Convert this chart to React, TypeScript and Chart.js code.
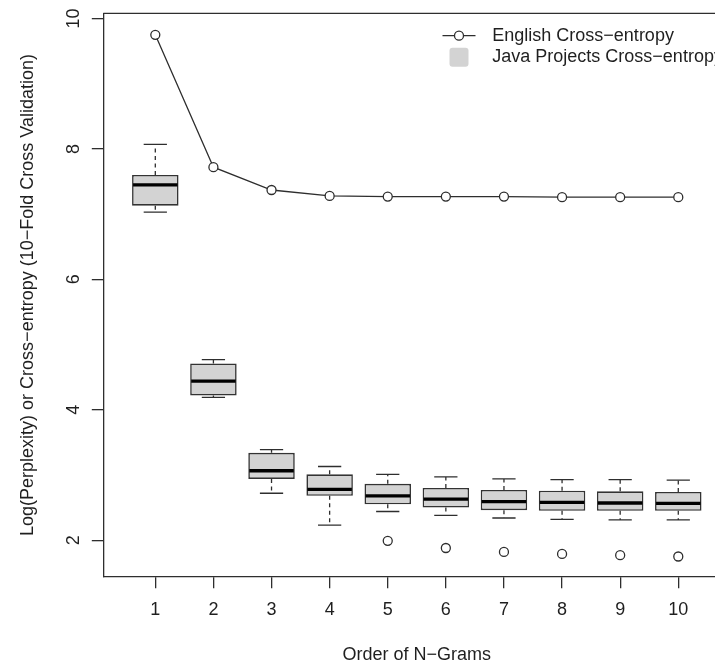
import React, { useEffect, useRef } from "react";
import { Chart, registerables } from "chart.js";

Chart.register(...registerables);

// ---- data ----
const orders = [1, 2, 3, 4, 5, 6, 7, 8, 9, 10];
const englishCrossEntropy = [9.75, 7.72, 7.37, 7.28, 7.27, 7.27, 7.27, 7.26, 7.26, 7.26];
const javaLowerWhisker = [7.03, 4.19, 2.72, 2.23, 2.44, 2.38, 2.34, 2.32, 2.31, 2.31];
const javaQ1 = [7.13, 4.22, 2.94, 2.68, 2.55, 2.5, 2.46, 2.45, 2.45, 2.45];
const javaMedian = [7.45, 4.44, 3.065, 2.78, 2.68, 2.63, 2.59, 2.58, 2.57, 2.565];
const javaQ3 = [7.6, 4.71, 3.34, 3.01, 2.865, 2.8, 2.77, 2.76, 2.75, 2.74];
const javaUpperWhisker = [8.07, 4.77, 3.39, 3.13, 3.01, 2.97, 2.94, 2.93, 2.93, 2.92];
const javaOutlierOrders = [5, 6, 7, 8, 9, 10];
const javaOutlierValues = [1.99, 1.88, 1.82, 1.79, 1.77, 1.75];
const seriesLabels = ["English Cross\u2212entropy", "Java Projects Cross\u2212entropy"];
const xTitle = "Order of N\u2212Grams";
const yTitle = "Log(Perplexity) or Cross\u2212entropy (10\u2212Fold Cross Validation)";

// ---- layout / style ----
const X_MIN = 0.105;
const X_MAX = 10.89;
const Y_MIN = 1.44;
const Y_MAX = 10.08;
const FONT = "'Liberation Sans', Arial, Helvetica, sans-serif";
const TEXT = "#1f1f1f";
const LINE = "#2e2e2e";
const BOX_FILL = "#d3d3d3";
const BOX_HALF = 0.4;
const STAPLE_HALF = 0.2;

const boxPlugin = {
  id: "boxExtras",
  afterDatasetsDraw(chart: any) {
    const ctx = chart.ctx;
    const xs = chart.scales.x;
    const ys = chart.scales.y;
    ctx.save();
    orders.forEach((o, i) => {
      const cx = xs.getPixelForValue(o);
      const hw = xs.getPixelForValue(o + BOX_HALF) - cx;
      const sw = xs.getPixelForValue(o + STAPLE_HALF) - cx;
      const yLo = ys.getPixelForValue(javaLowerWhisker[i]);
      const yQ1 = ys.getPixelForValue(javaQ1[i]);
      const yMed = ys.getPixelForValue(javaMedian[i]);
      const yQ3 = ys.getPixelForValue(javaQ3[i]);
      const yHi = ys.getPixelForValue(javaUpperWhisker[i]);
      // whiskers (dashed)
      ctx.strokeStyle = LINE;
      ctx.lineWidth = 1.3;
      ctx.setLineDash([4, 3.5]);
      ctx.beginPath();
      ctx.moveTo(cx, yQ3);
      ctx.lineTo(cx, yHi);
      ctx.moveTo(cx, yQ1);
      ctx.lineTo(cx, yLo);
      ctx.stroke();
      // staples
      ctx.setLineDash([]);
      ctx.beginPath();
      ctx.moveTo(cx - sw, yHi);
      ctx.lineTo(cx + sw, yHi);
      ctx.moveTo(cx - sw, yLo);
      ctx.lineTo(cx + sw, yLo);
      ctx.stroke();
      // median
      ctx.strokeStyle = "#000";
      ctx.lineWidth = 3.3;
      ctx.beginPath();
      ctx.moveTo(cx - hw + 1, yMed);
      ctx.lineTo(cx + hw - 1, yMed);
      ctx.stroke();
    });
    ctx.restore();
  },
  afterDraw(chart: any) {
    const ctx = chart.ctx;
    const a = chart.chartArea;
    ctx.save();
    // top/right frame lines
    ctx.strokeStyle = LINE;
    ctx.lineWidth = 1.3;
    ctx.beginPath();
    ctx.moveTo(a.left, a.top);
    ctx.lineTo(a.right, a.top);
    ctx.lineTo(a.right, a.bottom);
    ctx.stroke();
    // legend
    const symX = a.left + 355.7;
    const textX = a.left + 389;
    const row1 = a.top + 22.4;
    const row2 = a.top + 44;
    ctx.strokeStyle = LINE;
    ctx.lineWidth = 1.3;
    ctx.beginPath();
    ctx.moveTo(symX - 16.5, row1);
    ctx.lineTo(symX + 16.5, row1);
    ctx.stroke();
    ctx.beginPath();
    ctx.arc(symX, row1, 4.5, 0, Math.PI * 2);
    ctx.fillStyle = "#fff";
    ctx.fill();
    ctx.stroke();
    ctx.fillStyle = BOX_FILL;
    const s = 19;
    const r = 3;
    ctx.beginPath();
    (ctx as any).roundRect(symX - s / 2, row2 - s / 2, s, s, r);
    ctx.fill();
    ctx.fillStyle = TEXT;
    ctx.font = `18px ${FONT}`;
    ctx.textBaseline = "middle";
    ctx.textAlign = "left";
    ctx.fillText(seriesLabels[0], textX, row1);
    ctx.fillText(seriesLabels[1], textX, row2);
    ctx.restore();
  },
};

export default function App() {
  const ref = useRef<HTMLCanvasElement | null>(null);
  useEffect(() => {
    if (!ref.current) return;
    const chart = new Chart(ref.current, {
      type: "bar",
      data: {
        datasets: [
          {
            type: "bar",
            label: seriesLabels[1],
            data: orders.map((o, i) => ({ x: o, y: [javaQ1[i], javaQ3[i]] })) as any,
            backgroundColor: BOX_FILL,
            borderColor: "#333333",
            borderWidth: 1.6,
            borderSkipped: false,
            barPercentage: 0.8,
            categoryPercentage: 1,
            order: 2,
          } as any,
          {
            type: "line",
            label: seriesLabels[0],
            data: orders.map((o, i) => ({ x: o, y: englishCrossEntropy[i] })),
            borderColor: LINE,
            borderWidth: 1.3,
            pointRadius: 4.5,
            pointBorderWidth: 1.3,
            pointBorderColor: LINE,
            pointBackgroundColor: "#fff",
            tension: 0,
            order: 1,
          },
          {
            type: "line",
            label: "outliers",
            data: javaOutlierOrders.map((o, i) => ({ x: o, y: javaOutlierValues[i] })),
            showLine: false,
            pointRadius: 4.5,
            pointBorderWidth: 1.3,
            pointBorderColor: LINE,
            pointBackgroundColor: "rgba(0,0,0,0)",
            order: 1,
          },
        ],
      },
      options: {
        responsive: false,
        animation: false,
        events: [],
        layout: { padding: { left: 0, top: 13.3, right: 30, bottom: 0 } },
        plugins: { legend: { display: false }, tooltip: { enabled: false } },
        scales: {
          x: {
            type: "linear",
            min: X_MIN,
            max: X_MAX,
            offset: false,
            grid: {
              display: true,
              offset: false,
              drawOnChartArea: false,
              drawTicks: true,
              tickLength: 11.5,
              color: LINE,
              lineWidth: 1.3,
            },
            border: { display: true, color: LINE, width: 1.3 },
            ticks: {
              stepSize: 1,
              includeBounds: false,
              autoSkip: false,
              maxRotation: 0,
              minRotation: 0,
              padding: 10.8,
              color: TEXT,
              font: { family: FONT, size: 18 },
            },
            title: {
              display: true,
              text: xTitle,
              color: TEXT,
              font: { family: FONT, size: 18 },
              padding: { top: 0, bottom: 4.2 },
            },
            afterFit: (s: any) => {
              s.height = 93.3;
              s.paddingLeft = 0;
              s.paddingRight = 0;
            },
          },
          y: {
            type: "linear",
            min: Y_MIN,
            max: Y_MAX,
            grid: {
              display: true,
              offset: false,
              drawOnChartArea: false,
              drawTicks: true,
              tickLength: 11.5,
              color: LINE,
              lineWidth: 1.3,
            },
            border: { display: true, color: LINE, width: 1.3 },
            ticks: {
              stepSize: 2,
              includeBounds: false,
              autoSkip: false,
              minRotation: 90,
              maxRotation: 90,
              crossAlign: "center",
              padding: 8,
              color: TEXT,
              font: { family: FONT, size: 18 },
            },
            title: {
              display: true,
              text: yTitle,
              color: TEXT,
              font: { family: FONT, size: 18 },
              padding: { top: 17.7, bottom: 0 },
            },
            afterFit: (s: any) => {
              s.width = 103.3;
              s.paddingTop = 0;
              s.paddingBottom = 0;
            },
          },
        },
      } as any,
      plugins: [boxPlugin],
    });
    return () => chart.destroy();
  }, []);

  return (
    <div
      style={{
        position: "fixed",
        left: 0,
        top: 0,
        width: 715,
        height: 661,
        overflow: "hidden",
        background: "#fff",
      }}
    >
      <canvas ref={ref} width={760} height={670} style={{ display: "block", width: 760, height: 670 }} />
    </div>
  );
}
